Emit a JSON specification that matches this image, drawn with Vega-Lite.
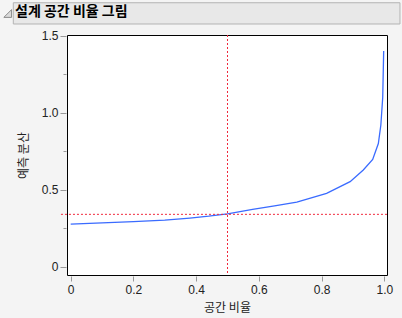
{
  "$schema": "https://vega.github.io/schema/vega-lite/v6.json",
  "width": 320,
  "height": 240,
  "autosize": {"type": "none"},
  "padding": {"left": 67, "top": 35, "right": 15, "bottom": 43},
  "background": "#f4f4f4",
  "view": {"fill": "white", "stroke": "black", "strokeWidth": 1},
  "datasets": {
    "curve": [
      {"fraction": 0, "variance": 0.277},
      {"fraction": 0.1, "variance": 0.285},
      {"fraction": 0.2, "variance": 0.293},
      {"fraction": 0.3, "variance": 0.303},
      {"fraction": 0.38, "variance": 0.316},
      {"fraction": 0.44, "variance": 0.328},
      {"fraction": 0.5, "variance": 0.343},
      {"fraction": 0.58, "variance": 0.372},
      {"fraction": 0.65, "variance": 0.395},
      {"fraction": 0.721, "variance": 0.42},
      {"fraction": 0.816, "variance": 0.476},
      {"fraction": 0.891, "variance": 0.552},
      {"fraction": 0.933, "variance": 0.628},
      {"fraction": 0.963, "variance": 0.697},
      {"fraction": 0.981, "variance": 0.8},
      {"fraction": 0.989, "variance": 0.92},
      {"fraction": 0.995, "variance": 1.1},
      {"fraction": 0.998, "variance": 1.4}
    ],
    "median": [{"fraction": 0.5, "variance": 0.34}],
    "header": [{"title": "설계 공간 비율 그림"}]
  },
  "resolve": {"axis": {"x": "independent", "y": "independent"}},
  "layer": [
    {
      "data": {"name": "header"},
      "mark": {"type": "rect", "fill": "#e8e8e8", "stroke": "#b4b4b4", "strokeWidth": 1},
      "encoding": {
        "x": {"datum": -0.183, "type": "quantitative", "scale": {"domain": [-0.0118, 1.0086]}, "axis": null},
        "x2": {"datum": 1.05},
        "y": {"datum": 1.714, "type": "quantitative", "scale": {"domain": [-0.0539, 1.5045]}, "axis": null},
        "y2": {"datum": 1.576}
      }
    },
    {
      "data": {"name": "header"},
      "mark": {"type": "point", "shape": "M 1 -1 L 1 1 L -1 1 Z", "filled": true, "fill": "#dadada", "stroke": "#8a8a8a", "strokeWidth": 1, "opacity": 1, "size": 60},
      "encoding": {
        "x": {"datum": -0.2009, "type": "quantitative", "scale": {"domain": [-0.0118, 1.0086]}, "axis": null},
        "y": {"datum": 1.644, "type": "quantitative", "scale": {"domain": [-0.0539, 1.5045]}, "axis": null}
      }
    },
    {
      "data": {"name": "header"},
      "mark": {"type": "text", "align": "left", "baseline": "middle", "font": "Noto Sans CJK KR", "fontSize": 14, "fontWeight": "bold", "color": "#000000"},
      "encoding": {
        "text": {"field": "title", "type": "nominal"},
        "x": {"datum": -0.1776, "type": "quantitative", "scale": {"domain": [-0.0118, 1.0086]}, "axis": null},
        "y": {"datum": 1.651, "type": "quantitative", "scale": {"domain": [-0.0539, 1.5045]}, "axis": null}
      }
    },
    {
      "data": {"name": "curve"},
      "mark": {"type": "line", "color": "#3a6bff", "strokeWidth": 1.3},
      "encoding": {
        "x": {
          "field": "fraction", "type": "quantitative",
          "scale": {"domain": [-0.0118, 1.0086]},
          "axis": {
            "title": "공간 비율", "values": [0, 0.2, 0.4, 0.6, 0.8, 1.0],
            "labelExpr": "datum.value == 0 ? '0' : format(datum.value, '.1f')",
            "grid": false, "domain": false, "offset": 1, "tickSize": 5, "tickColor": "#999999",
            "labelPadding": 3, "labelFont": "Liberation Sans", "labelFontSize": 12, "labelColor": "#222222",
            "titleFont": "Noto Sans CJK KR", "titleFontSize": 12, "titleFontWeight": "normal", "titleColor": "#222222",
            "titlePadding": 7
          }
        },
        "y": {
          "field": "variance", "type": "quantitative",
          "scale": {"domain": [-0.0539, 1.5045]},
          "axis": {
            "title": "예측 분산", "values": [0, 0.5, 1.0, 1.5],
            "labelExpr": "datum.value == 0 ? '0' : format(datum.value, '.1f')",
            "grid": false, "domain": false, "offset": 1, "tickSize": 6, "tickColor": "#999999",
            "labelPadding": 2, "labelFont": "Liberation Sans", "labelFontSize": 12, "labelColor": "#222222",
            "titleFont": "Noto Sans CJK KR", "titleFontSize": 12, "titleFontWeight": "normal", "titleColor": "#222222",
            "titlePadding": 11
          }
        }
      }
    },
    {
      "data": {"name": "median"},
      "mark": {"type": "rule", "color": "#f0283c", "strokeDash": [2, 2], "strokeWidth": 1},
      "encoding": {
        "x": {"field": "fraction", "type": "quantitative", "scale": {"domain": [-0.0118, 1.0086]}, "axis": null}
      }
    },
    {
      "data": {"name": "median"},
      "mark": {"type": "rule", "color": "#f0283c", "strokeDash": [2, 2], "strokeWidth": 1},
      "encoding": {
        "x": {"datum": -0.031, "type": "quantitative", "scale": {"domain": [-0.0118, 1.0086]}, "axis": null},
        "x2": {"datum": 1.0086},
        "y": {
          "field": "variance", "type": "quantitative",
          "scale": {"domain": [-0.0539, 1.5045]},
          "axis": {"orient": "left", "title": null, "values": [0.25, 0.75, 1.25], "labels": false, "grid": false, "domain": false, "offset": 1, "tickSize": 3, "tickColor": "#999999"}
        }
      }
    }
  ]
}
